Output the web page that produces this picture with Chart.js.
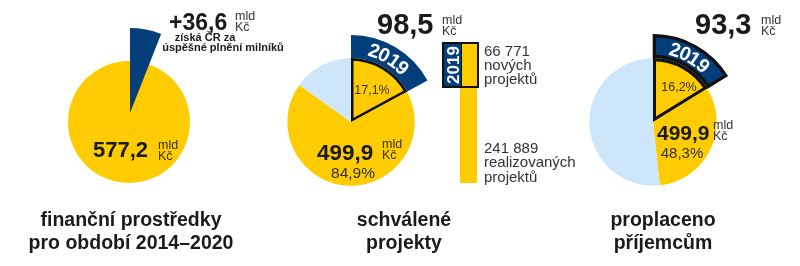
<!DOCTYPE html>
<html>
<head>
<meta charset="utf-8">
<script src="https://cdn.jsdelivr.net/npm/chart.js@4.4.1/dist/chart.umd.min.js"></script>
<style>
  html, body { margin: 0; padding: 0; background: #fff; }
  #wrap { position: relative; width: 800px; height: 266px; overflow: hidden; font-family: "Liberation Sans", Arial, sans-serif; }
  #wrap canvas { position: absolute; }
  .t { position: absolute; white-space: nowrap; line-height: 1; }
</style>
</head>
<body>
<div id="wrap"></div>
<script>
var yellow = '#fecc00', navy = '#043e7b', lightBlue = '#cee6fa', ink = '#1a1a1a', grey = '#333';

// finanční prostředky 2014–2020 (mld Kč)
var fundTotal = [577.2];
var fundWithBonus = [36.6, 577.2];          // +36,6 za milníky, alokace

// schválené projekty (% z alokace): 2019, dříve schválené, neschváleno
var approvedShares = [17.1, 67.8, 15.1];
var approvedLabels = ['98,5', '499,9', '84,9%', '17,1%'];

// proplaceno příjemcům (%): 2019, dříve proplaceno, neproplaceno
var paidShares = [16.2, 32.1, 51.7];
var paidLabels = ['93,3', '499,9', '48,3%', '16,2%'];

// počet projektů: realizované, nové v roce 2019
var projectCounts = [241889, 66771];
var projectLabels = ['241 889', '66 771'];

var wrap = document.getElementById('wrap');

function label(text, x, base, size, bold, align, color) {
  var d = document.createElement('div');
  d.className = 't';
  d.textContent = text;
  d.style.fontSize = size + 'px';
  d.style.fontWeight = bold ? 'bold' : 'normal';
  d.style.color = color || ink;
  d.style.top = (base - 0.8465 * size) + 'px';
  d.style.left = x + 'px';
  if (align === 'center') d.style.transform = 'translateX(-50%)';
  wrap.appendChild(d);
  return d;
}

function units(x, base1) {
  label('mld', x, base1, 12.5, false, 'left', grey);
  label('Kč', x, base1 + 10.5, 12.5, false, 'left', grey);
}

function makePie(cx, cy, radius, datasets) {
  var size = 2 * Math.ceil(radius + 6);
  var c = document.createElement('canvas');
  c.width = size; c.height = size;
  c.style.left = (cx - size / 2) + 'px';
  c.style.top = (cy - size / 2) + 'px';
  wrap.appendChild(c);
  return new Chart(c, {
    type: 'pie',
    data: { datasets: datasets },
    options: {
      responsive: false,
      animation: false,
      events: [],
      radius: radius,
      layout: { padding: 0 },
      plugins: { legend: { display: false }, tooltip: { enabled: false } }
    }
  });
}

// "2019" written along the outer ring slice
var measure = document.createElement('canvas').getContext('2d');
function arcLabel(chart, text, size) {
  var arc = chart.getDatasetMeta(0).data[0];
  var ox = parseFloat(chart.canvas.style.left), oy = parseFloat(chart.canvas.style.top);
  var r = (arc.innerRadius + arc.outerRadius) / 2 - 1;
  var mid = (arc.startAngle + arc.endAngle) / 2;
  measure.font = 'bold ' + size + 'px "Liberation Sans"';
  var total = measure.measureText(text).width;
  var acc = 0;
  for (var i = 0; i < text.length; i++) {
    var w = measure.measureText(text[i]).width;
    var a = mid + (acc + w / 2 - total / 2) / r;
    acc += w;
    var s = document.createElement('div');
    s.className = 't';
    s.textContent = text[i];
    s.style.fontSize = size + 'px';
    s.style.fontWeight = 'bold';
    s.style.color = '#fff';
    s.style.left = (ox + arc.x + r * Math.cos(a)) + 'px';
    s.style.top = (oy + arc.y + r * Math.sin(a)) + 'px';
    s.style.transform = 'translate(-50%,-50%) rotate(' + (a + Math.PI / 2) + 'rad)';
    wrap.appendChild(s);
  }
}

// --- finanční prostředky ---
makePie(129, 122, 61, [{ data: fundTotal, backgroundColor: [yellow], borderWidth: 0 }]);
makePie(130, 113, 85, [{ data: fundWithBonus, backgroundColor: [navy, 'rgba(0,0,0,0)'], borderWidth: 0 }]);

// --- schválené projekty ---
var pie2 = makePie(351, 122, 87, [
  { data: approvedShares, weight: 23, backgroundColor: [navy, 'rgba(0,0,0,0)', 'rgba(0,0,0,0)'], borderWidth: 0 },
  { data: approvedShares, weight: 64, backgroundColor: [yellow, yellow, lightBlue],
    borderColor: '#111', borderWidth: [2.5, 0, 0], borderAlign: 'inner' }
]);
arcLabel(pie2, '2019', 19.5);

// --- proplaceno příjemcům ---
var pie3 = makePie(653, 122, 88, [
  { data: paidShares, weight: 24, backgroundColor: [navy, 'rgba(0,0,0,0)', 'rgba(0,0,0,0)'],
    borderColor: '#111', borderWidth: [3, 0, 0], borderAlign: 'inner' },
  { data: paidShares, weight: 64, backgroundColor: [yellow, yellow, lightBlue],
    borderColor: '#111', borderWidth: [3, 0, 0], borderAlign: 'inner' }
]);
arcLabel(pie3, '2019', 19.5);

// --- sloupec projektů ---
var bc = document.createElement('canvas');
bc.width = 17; bc.height = 141;
bc.style.left = '460px'; bc.style.top = '42px';
wrap.appendChild(bc);
var bar = new Chart(bc, {
  type: 'bar',
  data: {
    labels: ['projekty'],
    datasets: [
      { data: [projectCounts[0]], backgroundColor: yellow, borderWidth: 0 },
      { data: [projectCounts[1]], backgroundColor: yellow, borderWidth: 0 }
    ]
  },
  options: {
    responsive: false,
    animation: false,
    events: [],
    layout: { padding: 0 },
    datasets: { bar: { categoryPercentage: 1, barPercentage: 1 } },
    scales: {
      x: { display: false, stacked: true },
      y: { display: false, stacked: true, min: 0, max: projectCounts[0] + projectCounts[1] }
    },
    plugins: { legend: { display: false }, tooltip: { enabled: false } }
  }
});

var barTop = 42 + bar.scales.y.getPixelForValue(projectCounts[0] + projectCounts[1]);
var box = document.createElement('div');
box.style.cssText = 'position:absolute;left:442px;width:33px;height:42px;border:2px solid #111;top:' + barTop + 'px;';
wrap.appendChild(box);
var tag = document.createElement('div');
tag.style.cssText = 'position:absolute;left:0;top:0;width:17px;height:42px;background:' + navy + ';border-right:1px solid #111;';
box.appendChild(tag);
var tagText = document.createElement('div');
tagText.className = 't';
tagText.textContent = '2019';
tagText.style.cssText += 'color:#fff;font-weight:bold;font-size:17px;left:8.5px;top:21px;transform:translate(-50%,-50%) rotate(-90deg);';
tag.appendChild(tagText);

// --- texty ---
label('+36,6', 169, 30, 23, true);
units(235, 21);
label('získá ČR za', 205, 41, 11, true, 'center');
label('úspěšné plnění milníků', 223, 51.5, 11, true, 'center');
label('577,2', 93, 158, 22, true);
units(158, 150);

label(approvedLabels[0], 377, 35, 29, true);
units(442, 25);
label(approvedLabels[3], 372, 95, 12.5, false, 'center', grey);
label(approvedLabels[1], 317, 161.5, 22.5, true);
units(382, 149);
label(approvedLabels[2], 353, 178, 15.5, false, 'center', grey);

label(projectLabels[1], 484, 56, 15, false, 'left', grey);
label('nových', 484, 70, 15, false, 'left', grey);
label('projektů', 484, 84, 15, false, 'left', grey);
label(projectLabels[0], 484, 153, 15, false, 'left', grey);
label('realizovaných', 484, 167, 15, false, 'left', grey);
label('projektů', 484, 181.5, 15, false, 'left', grey);

label(paidLabels[0], 695, 35, 29, true);
units(761, 25);
label(paidLabels[3], 679, 91.5, 12.5, false, 'center', grey);
label(paidLabels[1], 657, 140, 21, true);
units(713, 130);
label(paidLabels[2], 682, 158, 15, false, 'center', grey);

label('finanční prostředky', 131, 226.5, 19.5, true, 'center');
label('pro období 2014–2020', 131, 250, 19.5, true, 'center');
label('schválené', 404, 226.5, 19.5, true, 'center');
label('projekty', 404, 250, 19.5, true, 'center');
label('proplaceno', 663, 226.5, 19.5, true, 'center');
label('příjemcům', 663, 250, 19.5, true, 'center');
</script>
</body>
</html>
